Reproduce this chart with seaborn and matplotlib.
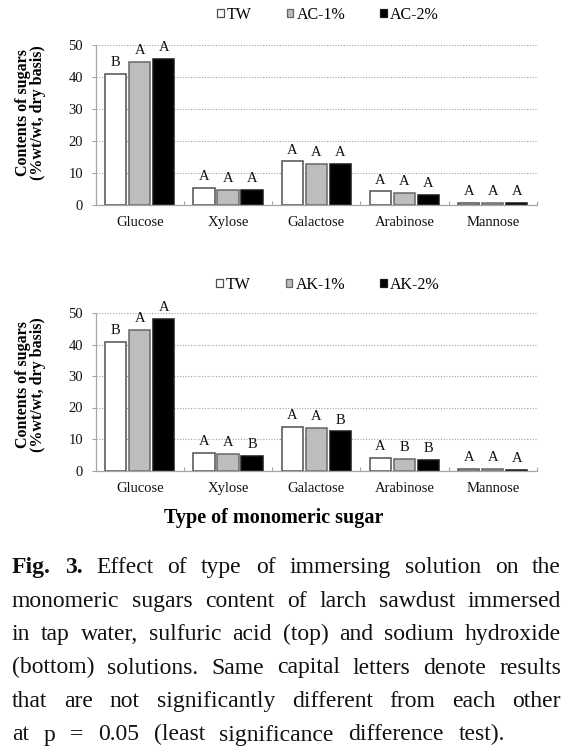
import matplotlib
matplotlib.use('Agg')
import matplotlib.pyplot as plt
from matplotlib.transforms import IdentityTransform
import seaborn as sns
import pandas as pd

# ---------------- data ----------------
categories = ['Glucose', 'Xylose', 'Galactose', 'Arabinose', 'Mannose']

top_series = ['TW', 'AC-1%', 'AC-2%']
top_tw = [40.8, 5.2, 13.5, 4.1, 0.5]
top_ac1 = [44.7, 4.7, 12.6, 3.5, 0.5]
top_ac2 = [45.6, 4.6, 12.7, 2.9, 0.5]
top_letters_tw = ['B', 'A', 'A', 'A', 'A']
top_letters_ac1 = ['A', 'A', 'A', 'A', 'A']
top_letters_ac2 = ['A', 'A', 'A', 'A', 'A']

bot_series = ['TW', 'AK-1%', 'AK-2%']
bot_tw = [40.9, 5.5, 13.7, 4.1, 0.4]
bot_ak1 = [44.5, 5.3, 13.4, 3.7, 0.4]
bot_ak2 = [48.0, 4.6, 12.4, 3.3, 0.3]
bot_letters_tw = ['B', 'A', 'A', 'A', 'A']
bot_letters_ak1 = ['A', 'A', 'A', 'B', 'A']
bot_letters_ak2 = ['A', 'B', 'B', 'B', 'A']

yticks = [0, 10, 20, 30, 40, 50]
ylabel = 'Contents of sugars\n(%wt/wt, dry basis)'
xlabel = 'Type of monomeric sugar'

caption_lines = [
    'Fig. 3. Effect of type of immersing solution on the',
    'monomeric sugars content of larch sawdust immersed',
    'in tap water, sulfuric acid (top) and sodium hydroxide',
    '(bottom) solutions. Same capital letters denote results',
    'that are not significantly different from each other',
    'at p = 0.05 (least significance difference test).',
]
caption_bold_words = ['Fig.', '3.']

# ---------------- style ----------------
sns.set_theme(style='white')
plt.rcParams['font.family'] = ['Liberation Serif', 'DejaVu Serif']
plt.rcParams['text.color'] = 'black'

fills = ['#ffffff', '#bdbdbd', '#000000']
edges = ['#505050', '#666666', '#1a1a1a']
spine_c = '#a6a6a6'

W, H = 573, 750
fig = plt.figure(figsize=(W / 100, H / 100), dpi=100)


def px_axes(left, top, right, bottom):
    return fig.add_axes([left / W, 1 - bottom / H, (right - left) / W, (bottom - top) / H])


def draw(ax, series, values, letters, leg_xy, ylab_y):
    rows = []
    for s, vals in zip(series, values):
        for c, v in zip(categories, vals):
            rows.append({'sugar': c, 'value': v, 'treatment': s})
    df = pd.DataFrame(rows)
    sns.barplot(data=df, x='sugar', y='value', hue='treatment',
                order=categories, hue_order=series, palette=fills,
                saturation=1, width=0.815, gap=0.12, errorbar=None,
                linewidth=1.1, edgecolor='#555555', ax=ax)
    for cont, ec, lts in zip(ax.containers, edges, letters):
        for p in cont:
            p.set_edgecolor(ec)
        ax.bar_label(cont, labels=lts, padding=3.5, fontsize=10.5, color='#111111')

    handles, labels = ax.get_legend_handles_labels()
    if ax.get_legend() is not None:
        ax.get_legend().remove()
    for h, ec in zip(handles, edges):
        h.set_edgecolor(ec)
        h.set_linewidth(0.9)
    ax.legend(handles, labels, ncol=3, loc='center',
              bbox_to_anchor=(leg_xy[0] / W, 1 - leg_xy[1] / H),
              bbox_transform=fig.transFigure, frameon=False, fontsize=11.5,
              handlelength=0.4, handleheight=0.4, handletextpad=0.2,
              columnspacing=2.2, borderpad=0)

    ax.set_xlim(-0.5, len(categories) - 0.5)
    ax.set_ylim(0, 50)
    ax.set_yticks(yticks)
    ax.set_xlabel('')
    ax.set_ylabel('')
    ax.set_axisbelow(True)
    ax.yaxis.grid(True, linestyle=(0, (1, 1.5)), color='#a0a0a0', linewidth=0.8)
    ax.xaxis.grid(False)
    for s in ['top', 'right']:
        ax.spines[s].set_visible(False)
    for s in ['left', 'bottom']:
        ax.spines[s].set_color(spine_c)
        ax.spines[s].set_linewidth(0.9)
    ax.set_xticks([i + 0.5 for i in range(len(categories))], minor=True)
    ax.tick_params(axis='x', which='major', length=0, pad=8, labelsize=10.5, labelcolor='#111111')
    ax.tick_params(axis='x', which='minor', direction='in', length=3, width=0.8, color=spine_c, bottom=True)
    ax.tick_params(axis='y', direction='out', length=3, width=0.8, color=spine_c, pad=6,
                   labelsize=10.5, labelcolor='#111111', left=True)
    ax.text((30.5 - 95.6) / 441.4, ylab_y, ylabel, transform=ax.transAxes, rotation=90,
            ha='center', va='center', fontsize=11.5, fontweight='bold', linespacing=0.95,
            multialignment='center')


ax1 = px_axes(95.6, 45, 537, 204.5)
ax2 = px_axes(95.6, 313, 537, 470.5)

draw(ax1, top_series, [top_tw, top_ac1, top_ac2],
     [top_letters_tw, top_letters_ac1, top_letters_ac2], (328, 15), 0.577)
draw(ax2, bot_series, [bot_tw, bot_ak1, bot_ak2],
     [bot_letters_tw, bot_letters_ak1, bot_letters_ak2], (328, 285), 0.543)

fig.text(274 / W, 1 - 518 / H, xlabel, ha='center', va='center',
         fontsize=14.5, fontweight='bold')

# ---------------- caption (justified) ----------------
fig.canvas.draw()
renderer = fig.canvas.get_renderer()
left_px = 12
rights = [561, 561, 561, 561, 561, 505]
baselines = [573, 607, 640, 673.5, 707, 740.5]
for li, (line, base, right) in enumerate(zip(caption_lines, baselines, rights)):
    words = line.split(' ')
    texts = []
    for w in words:
        bold = (li == 0 and w in caption_bold_words)
        t = fig.text(0, 0, w, transform=IdentityTransform(), fontsize=17,
                     fontweight='bold' if bold else 'normal', va='baseline', ha='left',
                     color='#111111')
        texts.append(t)
    widths = [t.get_window_extent(renderer).width for t in texts]
    gap = (right - left_px - sum(widths)) / (len(texts) - 1)
    x = left_px
    for t, w in zip(texts, widths):
        t.set_position((x, H - base))
        x += w + gap

fig.savefig('out.png', dpi=100)
